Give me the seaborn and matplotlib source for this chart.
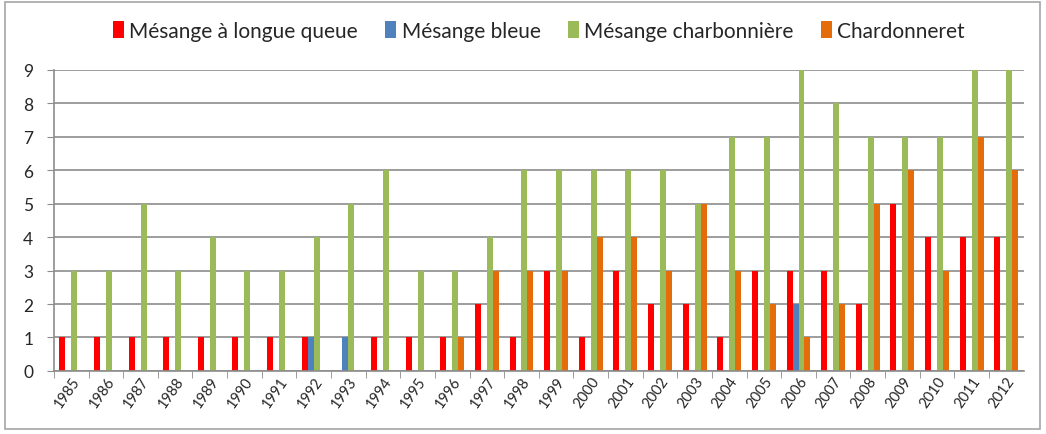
import numpy as np
import pandas as pd
import seaborn as sns
import matplotlib.pyplot as plt
from matplotlib.patches import Rectangle

years = list(range(1985, 2013))
longue_queue = [1, 1, 1, 1, 1, 1, 1, 1, 0, 1, 1, 1, 2, 1, 3, 1, 3, 2, 2, 1, 3, 3, 3, 2, 5, 4, 4, 4]
bleue = [0, 0, 0, 0, 0, 0, 0, 1, 1, 0, 0, 0, 0, 0, 0, 0, 0, 0, 0, 0, 0, 2, 0, 0, 0, 0, 0, 0]
charbonniere = [3, 3, 5, 3, 4, 3, 3, 4, 5, 6, 3, 3, 4, 6, 6, 6, 6, 6, 5, 7, 7, 9, 8, 7, 7, 7, 9, 9]
chardonneret = [0, 0, 0, 0, 0, 0, 0, 0, 0, 0, 0, 1, 3, 3, 3, 4, 4, 3, 5, 3, 2, 1, 2, 5, 6, 3, 7, 6]

series = ["Mésange à longue queue", "Mésange bleue", "Mésange charbonnière", "Chardonneret"]
colors = ["#FF0000", "#4F81BD", "#9BBB59", "#E46C0A"]

df = pd.DataFrame({
    "Année": [str(y) for y in years] * 4,
    "Nombre": longue_queue + bleue + charbonniere + chardonneret,
    "Espèce": np.repeat(series, len(years)),
})

sns.set_style("white")
plt.rcParams['font.family'] = ['Lato', 'DejaVu Sans']

fig = plt.figure(figsize=(10.46, 4.35), dpi=100)
ax = fig.add_axes([0.0516, 0.145, 0.927, 0.692])
sns.barplot(data=df, x="Année", y="Nombre", hue="Espèce", palette=colors,
            width=0.69, gap=0, saturation=1, linewidth=0, ax=ax)

ax.set_ylim(0, 9)
ax.set_xlim(-0.5, len(years) - 0.5)
ax.set_yticks(range(10))
ax.yaxis.grid(True, color="#8c8c8c", linewidth=1.2)
ax.set_axisbelow(True)
ax.set_xlabel("")
ax.set_ylabel("")
for s in ["top", "right"]:
    ax.spines[s].set_visible(False)
for s in ["left", "bottom"]:
    ax.spines[s].set_color("#8c8c8c")
    ax.spines[s].set_linewidth(1.2)

ax.tick_params(axis="y", labelsize=12.5, length=5, color="#8c8c8c", left=True, pad=10)
ax.set_xticks(np.arange(len(years)) - 0.5, minor=True)
ax.tick_params(axis="x", which="minor", length=5, color="#8c8c8c", bottom=True)
ax.tick_params(axis="x", which="major", length=0, labelsize=10.5, pad=2)
plt.setp(ax.get_xticklabels(), rotation=55, ha="right", rotation_mode="anchor")

ax.legend(loc="lower center", bbox_to_anchor=(0.5, 1.035), ncol=4, frameon=False,
          fontsize=15, handlelength=0.55, handleheight=0.9, handletextpad=0.25,
          columnspacing=1.3)

fig.patches.append(Rectangle((0.005, 0.012), 0.989, 0.981, transform=fig.transFigure,
                             fill=False, edgecolor="#a6a6a6", linewidth=1.2))

fig.savefig("out.png", dpi=100)
